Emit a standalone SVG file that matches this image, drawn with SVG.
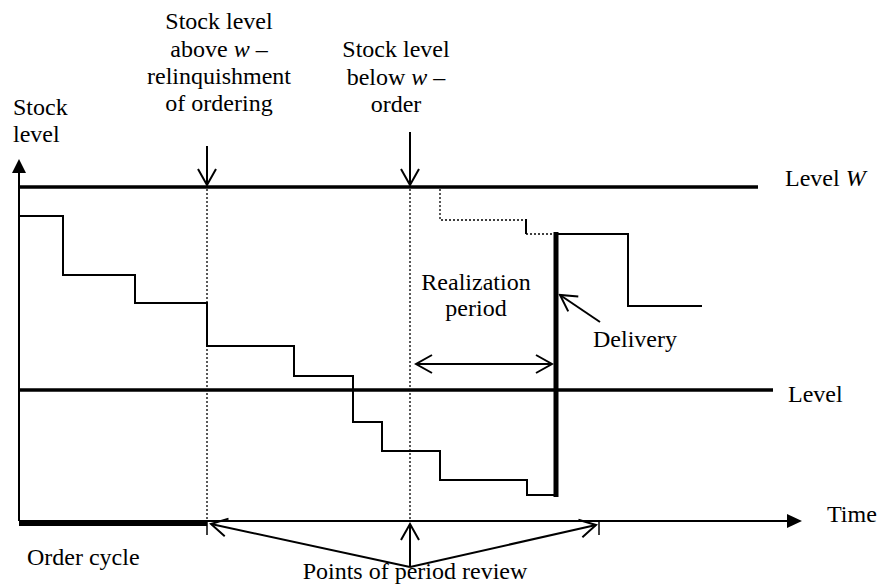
<svg xmlns="http://www.w3.org/2000/svg" width="879" height="588" viewBox="0 0 879 588">
<style>
text{font-size:24px;fill:#000}
.c{text-anchor:middle}
.ln{fill:none;stroke:#000}
.thin{stroke-width:1.5}
.med{stroke-width:2}
.thick{stroke-width:3.5}
.dot{fill:none;stroke:#000;stroke-width:1.3;stroke-dasharray:2 2}
</style>
<defs>
<marker id="open" viewBox="-18 -11 20 22" markerWidth="20" markerHeight="22" refX="0" refY="0" orient="auto-start-reverse" markerUnits="userSpaceOnUse">
<path d="M-16,-9 L0,0 L-16,9" fill="none" stroke="#000" stroke-width="2"/>
</marker>
</defs>
<g font-family="Liberation Serif, DejaVu Serif, serif">
<g id="axes">
<line class="ln med" x1="19" y1="172" x2="19" y2="521"/>
<polygon points="19,159 12,173 26,173" fill="#000"/>
<line class="ln med" x1="19" y1="521" x2="789" y2="521"/>
<polygon points="802,521 787,514 787,528" fill="#000"/>
<rect x="19" y="522" width="188" height="4" fill="#000"/>
<line class="ln thin" x1="207" y1="520" x2="207" y2="535"/>
<line class="ln thin" x1="599" y1="521" x2="599" y2="535"/>
<text x="13" y="115">Stock</text>
<text x="13" y="142">level</text>
<text x="827" y="522">Time</text>
</g>
<g id="levelW">
<line class="ln thick" x1="19" y1="187" x2="758" y2="187"/>
<text x="785" y="186">Level <tspan font-style="italic">W</tspan></text>
</g>
<g id="level">
<line class="ln thick" x1="19" y1="390" x2="773" y2="390"/>
<text x="788" y="402">Level</text>
</g>
<g id="stock-curve">
<polyline class="ln med" points="19,216 63,216 63,275 135,275 135,303 207,303 207,346 294,346 294,376 353,376 353,422 382,422 382,451 440,451 440,480 527,480 527,495 556,495"/>
<line x1="556" y1="232" x2="556" y2="497" stroke="#000" stroke-width="5"/>
<polyline class="ln med" points="556,234 628,234 628,306 702,306"/>
<polyline class="dot" points="440,189 440,220 526,220"/>
<line class="ln med" x1="526" y1="219" x2="526" y2="234"/>
<line class="dot" x1="526" y1="234" x2="554" y2="234"/>
</g>
<g id="review-lines">
<line class="dot" x1="207" y1="189" x2="207" y2="520"/>
<line class="dot" x1="410" y1="189" x2="410" y2="520"/>
</g>
<g id="label-above">
<text class="c" x="219" y="29">Stock level</text>
<text class="c" x="219" y="57">above <tspan font-style="italic">w</tspan> –</text>
<text class="c" x="219" y="84">relinquishment</text>
<text class="c" x="219" y="111">of ordering</text>
</g>
<g id="label-below">
<text class="c" x="396" y="57">Stock level</text>
<text class="c" x="396" y="85">below <tspan font-style="italic">w</tspan> –</text>
<text class="c" x="396" y="112">order</text>
</g>
<g id="label-realization">
<text class="c" x="476" y="290">Realization</text>
<text class="c" x="476" y="316">period</text>
</g>
<g id="label-delivery">
<text x="593" y="347">Delivery</text>
</g>
<g id="label-order-cycle">
<text x="27" y="565">Order cycle</text>
</g>
<g id="label-review">
<text class="c" x="415" y="579">Points of period review</text>
</g>
</g>
<g id="connectors">
<line class="ln med" x1="207" y1="146" x2="207" y2="185" marker-end="url(#open)"/>
<line class="ln med" x1="410" y1="132" x2="410" y2="185" marker-end="url(#open)"/>
<line class="ln med" x1="416" y1="364" x2="552" y2="364" marker-start="url(#open)" marker-end="url(#open)"/>
<line class="ln med" x1="600" y1="322" x2="560" y2="295" marker-end="url(#open)"/>
<line class="ln med" x1="410" y1="567" x2="211" y2="524" marker-end="url(#open)"/>
<line class="ln med" x1="410" y1="567" x2="410" y2="524" marker-end="url(#open)"/>
<line class="ln med" x1="410" y1="567" x2="596" y2="525" marker-end="url(#open)"/>
</g>
</svg>
